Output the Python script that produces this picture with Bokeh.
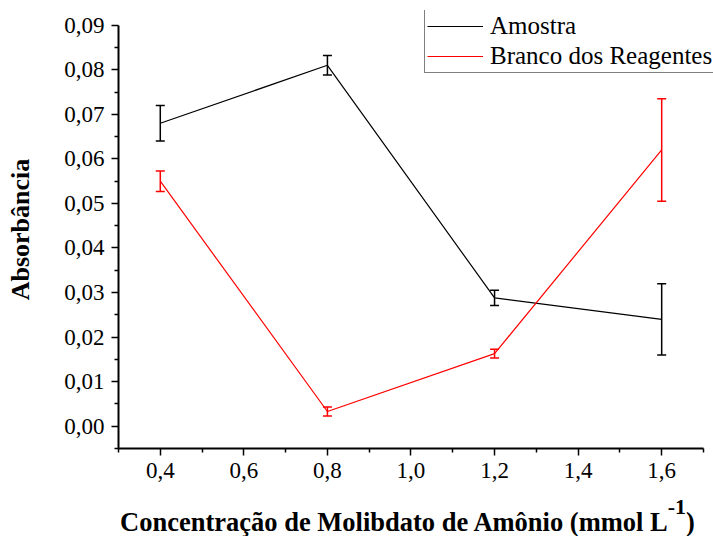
from bokeh.plotting import figure
from bokeh.layouts import column
from bokeh.models import (ColumnDataSource, Whisker, TeeHead, FixedTicker, Div,
                          CustomJSTickFormatter, Legend, LegendItem, Range1d)
from bokeh.embed import file_html
from bokeh.resources import INLINE

# Molybdate concentration (mmol/L)
conc = [0.4, 0.8, 1.2, 1.6]
# Sample absorbance and its standard deviation
amostra = [0.068, 0.081, 0.0288, 0.024]
amostra_err = [0.0040, 0.0022, 0.0017, 0.0080]
# Reagent blank absorbance and its standard deviation
branco = [0.055, 0.0033, 0.0163, 0.062]
branco_err = [0.0023, 0.0010, 0.0010, 0.0115]

x_ticks = [0.4, 0.6, 0.8, 1.0, 1.2, 1.4, 1.6]
x_minor = [0.3, 0.5, 0.7, 0.9, 1.1, 1.3, 1.5, 1.7]
y_ticks = [0.00, 0.01, 0.02, 0.03, 0.04, 0.05, 0.06, 0.07, 0.08, 0.09]
y_minor = [-0.005, 0.005, 0.015, 0.025, 0.035, 0.045, 0.055, 0.065, 0.075, 0.085]

x_label = "Concentração de Molibdato de Amônio (mmol L"
x_label_exp = "-1"
y_label = "Absorbância"

SERIF = "Liberation Serif"
W = 713
FIG_H = 506
TITLE_H = 30

p = figure(width=W, height=FIG_H, output_backend="svg", toolbar_location=None,
           x_range=Range1d(0.3, 1.724), y_range=Range1d(-0.005, 0.0933),
           min_border_left=118, min_border_right=0, min_border_top=10, min_border_bottom=58)
p.outline_line_color = None
p.xgrid.visible = False
p.ygrid.visible = False
p.background_fill_color = "white"
p.border_fill_color = "white"

src_a = ColumnDataSource(dict(x=conc, y=amostra,
                              lo=[v - e for v, e in zip(amostra, amostra_err)],
                              hi=[v + e for v, e in zip(amostra, amostra_err)]))
src_b = ColumnDataSource(dict(x=conc, y=branco,
                              lo=[v - e for v, e in zip(branco, branco_err)],
                              hi=[v + e for v, e in zip(branco, branco_err)]))

la = p.line("x", "y", source=src_a, line_color="black", line_width=1.2)
lb = p.line("x", "y", source=src_b, line_color="#ff0000", line_width=1.2)

for src, col in ((src_a, "black"), (src_b, "#ff0000")):
    w = Whisker(source=src, base="x", upper="hi", lower="lo", line_color=col, line_width=1.5,
                upper_head=TeeHead(size=9, line_color=col, line_width=1.5),
                lower_head=TeeHead(size=9, line_color=col, line_width=1.5))
    p.add_layout(w)

for ax, ticks, minor, dec, bounds in ((p.xaxis[0], x_ticks, x_minor, 1, (0.3, 1.7)),
                                      (p.yaxis[0], y_ticks, y_minor, 2, (-0.005, 0.09))):
    ax.ticker = FixedTicker(ticks=ticks, minor_ticks=minor)
    ax.formatter = CustomJSTickFormatter(code="return tick.toFixed(%d).replace('.', ',');" % dec)
    ax.bounds = bounds
    ax.axis_line_width = 2
    ax.axis_line_color = "black"
    ax.major_tick_out = 7
    ax.major_tick_in = 0
    ax.minor_tick_out = 4
    ax.minor_tick_in = 0
    ax.major_tick_line_width = 1.5
    ax.minor_tick_line_width = 1.5
    ax.major_tick_line_color = "black"
    ax.minor_tick_line_color = "black"
    ax.major_label_text_font = SERIF
    ax.major_label_text_font_size = "23px"
    ax.major_label_text_color = "black"
    ax.major_label_standoff = 7

p.yaxis.axis_label = y_label
p.yaxis.axis_label_text_font = SERIF
p.yaxis.axis_label_text_font_size = "26px"
p.yaxis.axis_label_text_font_style = "bold"
p.yaxis.axis_label_text_color = "black"
p.yaxis.axis_label_standoff = 26

legend = Legend(items=[LegendItem(label="Amostra", renderers=[la]),
                       LegendItem(label="Branco dos Reagentes", renderers=[lb])],
                location=(424 - 118, 448 - 15 - 58),
                border_line_color="black", border_line_width=1.2,
                background_fill_color="white", background_fill_alpha=1,
                label_text_font=SERIF, label_text_font_size="25px", label_text_color="black",
                glyph_width=56, glyph_height=26, label_height=26, label_standoff=7,
                spacing=2, padding=2, margin=0)
p.add_layout(legend)

# x-axis title, with a superscript exponent on the unit
title = Div(width=W, height=TITLE_H, margin=(0, 0, 0, 0),
            text=('<div style="width:585px;margin-left:115px;padding-top:3px;text-align:center;'
                  'white-space:nowrap;font-family:\'%s\';font-weight:bold;font-size:26.5px;'
                  'line-height:26px;color:black;">%s<span style="font-size:22px;position:relative;'
                  'top:-17px;">%s</span>)</div>')
                 % (SERIF, x_label, x_label_exp))

layout = column(p, title, spacing=0)
open("out.html", "w").write(file_html(layout, INLINE))
